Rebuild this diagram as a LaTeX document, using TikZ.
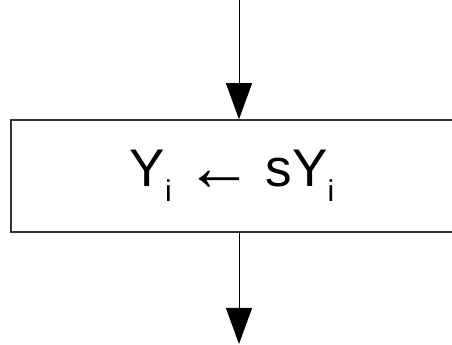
\documentclass[tikz,border=0pt]{standalone}
\usepackage{fontspec}
\setmainfont{Liberation Sans}
\usetikzlibrary{arrows.meta}
\begin{document}
\begin{tikzpicture}[x=1pt,y=1pt,font=\fontsize{53}{58}\selectfont,every node/.style={text=black}]
    \useasboundingbox (0,0) rectangle (452,345);
    \node[draw=black!80, line width=1.5pt, minimum width=456pt, minimum height=112pt, inner sep=0pt] (assign) at (239, 169)
      {\hspace{-14pt}Y\raisebox{-15pt}{\fontsize{30}{33}\selectfont i}\hspace{14pt}\raisebox{-4pt}{\fontsize{68}{70}\selectfont ←}\hspace{12pt}sY\raisebox{-15pt}{\fontsize{30}{33}\selectfont i}};
    \coordinate (in) at (239, 345);
    \coordinate (out) at (239, 1);
    \draw[black, line width=1pt, -{Triangle[length=36pt,width=26pt]}] (in) -- (assign.north);
    \draw[black, line width=1pt, -{Triangle[length=36pt,width=26pt]}] (assign.south) -- (out);
  \end{tikzpicture}
\end{document}
